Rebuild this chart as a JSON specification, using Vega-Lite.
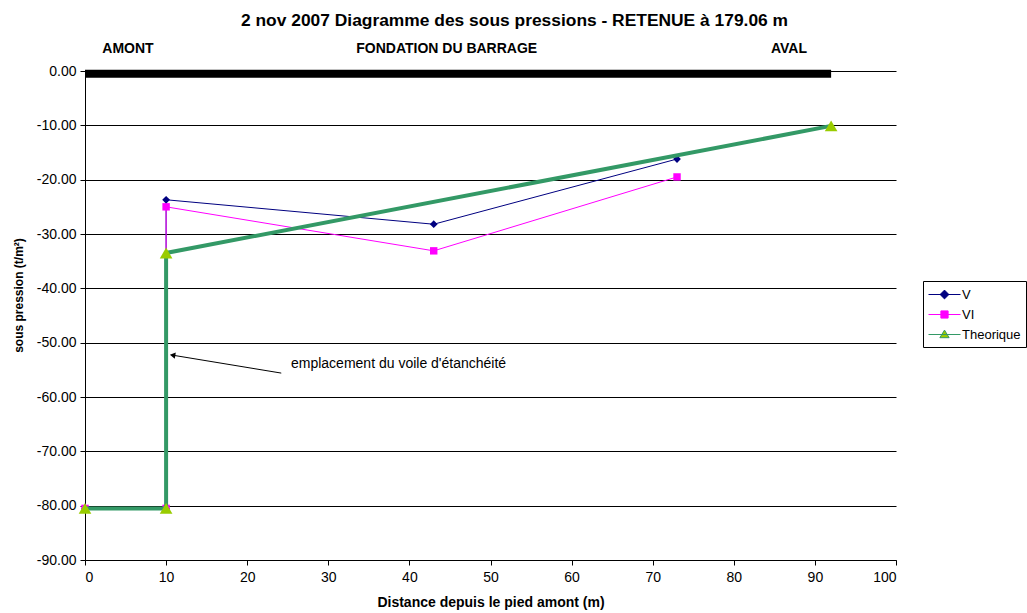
{
  "$schema": "https://vega.github.io/schema/vega-lite/v6.json",
  "autosize": {"type": "none"},
  "width": 811,
  "height": 489,
  "padding": {"left": 85, "top": 71, "right": 131, "bottom": 53},
  "background": "white",
  "config": {
    "font": "Liberation Sans",
    "view": {"stroke": null},
    "axis": {"labelFont": "Liberation Sans", "titleFont": "Liberation Sans", "labelColor": "black", "titleColor": "black", "domainColor": "black", "tickColor": "black", "labelFontSize": 14, "titleFontSize": 14, "titleFontWeight": "bold"}
  },
  "title": {"text": "2 nov 2007  Diagramme des sous pressions - RETENUE à 179.06 m", "font": "Liberation Sans", "fontSize": 17.4, "fontWeight": "bold", "color": "black", "anchor": "middle", "dx": 24, "offset": 13},
  "datasets": {
    "series": [
      {"serie": "V", "x": 0, "y": -80.5, "ord": 1},
      {"serie": "V", "x": 10, "y": -80.5, "ord": 2},
      {"serie": "V", "x": 10, "y": -23.7, "ord": 3},
      {"serie": "V", "x": 43, "y": -28.2, "ord": 4},
      {"serie": "V", "x": 73, "y": -16.2, "ord": 5},
      {"serie": "VI", "x": 0, "y": -80.5, "ord": 1},
      {"serie": "VI", "x": 10, "y": -80.5, "ord": 2},
      {"serie": "VI", "x": 10, "y": -25.0, "ord": 3},
      {"serie": "VI", "x": 43, "y": -33.1, "ord": 4},
      {"serie": "VI", "x": 73, "y": -19.5, "ord": 5},
      {"serie": "Theorique", "x": 0, "y": -80.5, "ord": 1},
      {"serie": "Theorique", "x": 10, "y": -80.5, "ord": 2},
      {"serie": "Theorique", "x": 10, "y": -33.5, "ord": 3},
      {"serie": "Theorique", "x": 92, "y": -10.1, "ord": 4}
    ],
    "labels": [
      {"x": 5.3, "y": 4.0, "t": "AMONT"},
      {"x": 44.6, "y": 4.0, "t": "FONDATION DU BARRAGE"},
      {"x": 86.8, "y": 4.0, "t": "AVAL"}
    ],
    "bar": [{"x": 0, "x2": 92, "y": -0.5}],
    "arrow": [{"x": 24.2, "y": -55.6, "x2": 10.8, "y2": -52.3}],
    "note": [{"x": 25.4, "y": -54.0, "t": "emplacement du voile d'étanchéité"}]
  },
  "layer": [
    {
      "data": {"name": "bar"},
      "mark": {"type": "rule", "color": "black", "strokeWidth": 8},
      "encoding": {
        "x": {"field": "x", "type": "quantitative", "scale": {"domain": [0, 100]}, "title": "Distance depuis le pied amont (m)", "axis": {"values": [0,10,20,30,40,50,60,70,80,90,100], "grid": false, "tickSize": 5, "labelPadding": 5, "titlePadding": 11}},
        "x2": {"field": "x2"},
        "y": {"field": "y", "type": "quantitative", "scale": {"domain": [-90, 0]}, "title": "sous pression (t/m²)", "axis": {"values": [0,-10,-20,-30,-40,-50,-60,-70,-80,-90], "labelExpr": "replace(format(datum.value, '.2f'), '−', '-')", "grid": true, "gridColor": "#000000", "gridWidth": 1, "tickSize": 5, "labelPadding": 4, "titlePadding": 11, "titleFontSize": 12, "titleY": 224}}
      }
    },
    {
      "data": {"name": "series"},
      "transform": [{"filter": "datum.serie === 'V'"}],
      "mark": {"type": "line", "color": "#000080", "strokeWidth": 1},
      "encoding": {
        "x": {"field": "x", "type": "quantitative"},
        "y": {"field": "y", "type": "quantitative"},
        "order": {"field": "ord"}
      }
    },
    {
      "data": {"name": "series"},
      "transform": [{"filter": "datum.serie === 'V'"}],
      "mark": {"type": "point", "shape": "diamond", "filled": true, "color": "#000080", "size": 60, "opacity": 1},
      "encoding": {
        "x": {"field": "x", "type": "quantitative"},
        "y": {"field": "y", "type": "quantitative"}
      }
    },
    {
      "data": {"name": "series"},
      "transform": [{"filter": "datum.serie === 'VI'"}],
      "mark": {"type": "line", "color": "#FF00FF", "strokeWidth": 1},
      "encoding": {
        "x": {"field": "x", "type": "quantitative"},
        "y": {"field": "y", "type": "quantitative"},
        "order": {"field": "ord"}
      }
    },
    {
      "data": {"name": "series"},
      "transform": [{"filter": "datum.serie === 'VI'"}],
      "mark": {"type": "point", "shape": "square", "filled": true, "color": "#FF00FF", "size": 55, "opacity": 1},
      "encoding": {
        "x": {"field": "x", "type": "quantitative"},
        "y": {"field": "y", "type": "quantitative"}
      }
    },
    {
      "data": {"name": "series"},
      "transform": [{"filter": "datum.serie === 'Theorique'"}],
      "mark": {"type": "line", "color": "#339966", "strokeWidth": 4},
      "encoding": {
        "x": {"field": "x", "type": "quantitative"},
        "y": {"field": "y", "type": "quantitative"},
        "order": {"field": "ord"}
      }
    },
    {
      "data": {"name": "series"},
      "transform": [{"filter": "datum.serie === 'Theorique'"}],
      "mark": {"type": "point", "shape": "triangle-up", "filled": true, "color": "#99CC00", "size": 160, "opacity": 1},
      "encoding": {
        "x": {"field": "x", "type": "quantitative"},
        "y": {"field": "y", "type": "quantitative"}
      }
    },
    {
      "data": {"name": "series"},
      "transform": [{"filter": "datum.x > 1000"}],
      "mark": {"type": "point", "filled": true, "opacity": 1},
      "encoding": {
        "x": {"field": "x", "type": "quantitative"},
        "y": {"field": "y", "type": "quantitative"},
        "fill": {"field": "serie", "type": "nominal", "scale": {"domain": ["V", "VI", "Theorique"], "range": ["#000080", "#FF00FF", "#99CC00"]},
          "legend": {"title": null, "orient": "none", "legendX": 838, "legendY": 210, "strokeColor": "black", "padding": 5, "labelFontSize": 13, "labelColor": "black", "labelFont": "Liberation Sans", "symbolSize": 256, "labelOffset": 17, "rowPadding": 4}},
        "stroke": {"field": "serie", "type": "nominal", "scale": {"domain": ["V", "VI", "Theorique"], "range": ["#000080", "#FF00FF", "#339966"]}, "legend": {"title": null}},
        "strokeWidth": {"field": "serie", "type": "ordinal", "scale": {"domain": ["V", "VI", "Theorique"], "range": [1, 1, 3]}, "legend": {"title": null}},
        "shape": {"field": "serie", "type": "nominal", "scale": {"domain": ["V", "VI", "Theorique"], "range": ["M-1,0H3M1,-0.55L1.55,0L1,0.55L0.45,0Z", "M-1,0H3M0.55,-0.45H1.45V0.45H0.55Z", "M-1,0H3M1,-0.55L1.58,0.4L0.42,0.4Z"]}, "legend": {"title": null}}
      }
    },
    {
      "data": {"name": "labels"},
      "mark": {"type": "text", "font": "Liberation Sans", "fontSize": 14, "fontWeight": "bold", "color": "black", "align": "center", "baseline": "middle"},
      "encoding": {
        "x": {"field": "x", "type": "quantitative"},
        "y": {"field": "y", "type": "quantitative"},
        "text": {"field": "t"}
      }
    },
    {
      "data": {"name": "arrow"},
      "mark": {"type": "rule", "color": "black", "strokeWidth": 1},
      "encoding": {
        "x": {"field": "x", "type": "quantitative"},
        "y": {"field": "y", "type": "quantitative"},
        "x2": {"field": "x2"},
        "y2": {"field": "y2"}
      }
    },
    {
      "data": {"name": "arrow"},
      "mark": {"type": "point", "shape": "triangle-left", "filled": true, "color": "black", "size": 40, "angle": 9, "opacity": 1},
      "encoding": {
        "x": {"field": "x2", "type": "quantitative"},
        "y": {"field": "y2", "type": "quantitative"}
      }
    },
    {
      "data": {"name": "note"},
      "mark": {"type": "text", "font": "Liberation Sans", "fontSize": 14, "color": "black", "align": "left", "baseline": "middle"},
      "encoding": {
        "x": {"field": "x", "type": "quantitative"},
        "y": {"field": "y", "type": "quantitative"},
        "text": {"field": "t"}
      }
    }
  ]
}
